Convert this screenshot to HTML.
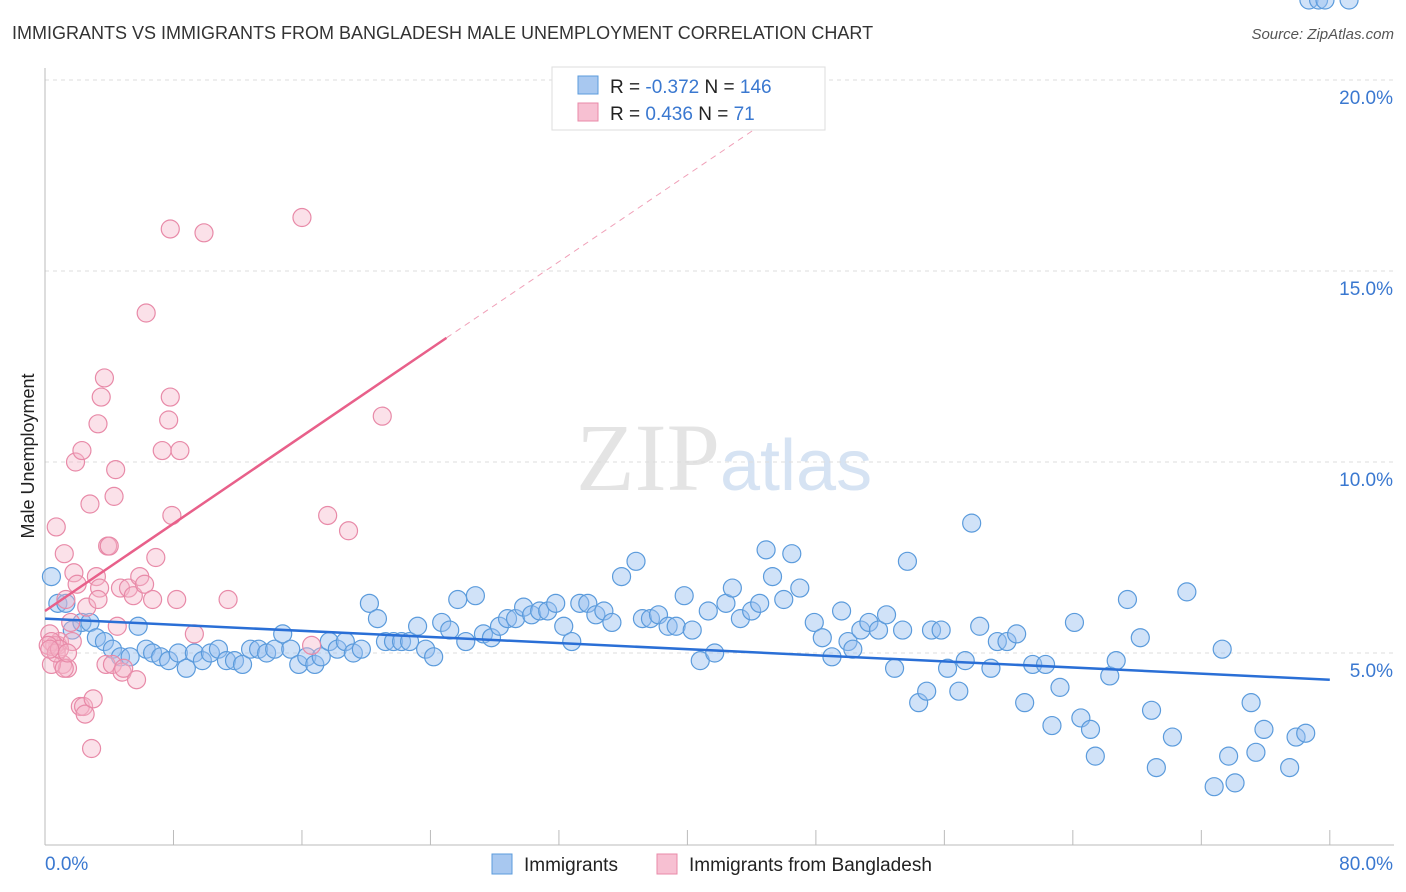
<!DOCTYPE html>
<html><head><meta charset="utf-8"><style>
body{margin:0;background:#fff;font-family:"Liberation Sans",sans-serif}
svg{display:block}
</style></head><body>
<svg id="c" width="1406" height="892">
<text x="12" y="39" font-size="18" fill="#333">IMMIGRANTS VS IMMIGRANTS FROM BANGLADESH MALE UNEMPLOYMENT CORRELATION CHART</text>
<text x="1394" y="39" font-size="15" fill="#555" font-style="italic" text-anchor="end">Source: ZipAtlas.com</text>
<text x="720" y="490" font-size="96" fill="#e4e4e4" font-family="Liberation Serif" text-anchor="end">ZIP</text>
<text x="720" y="490" font-size="72" fill="#d6e3f3">atlas</text>
<text transform="translate(34,456) rotate(-90)" font-size="18" fill="#222" text-anchor="middle">Male Unemployment</text>
<g id="grid"></g><g id="pts"></g><g id="trend"></g>
<g>
<rect x="552" y="67" width="273" height="63" fill="#fff" stroke="#ddd"/>
<rect x="578" y="76" width="20" height="18" fill="#a8c8f0" stroke="#5b9bdc"/>
<rect x="578" y="103" width="20" height="18" fill="#f7c0d2" stroke="#e88aa8"/>
<text x="610" y="93" font-size="19" fill="#222">R = <tspan fill="#3a78d0">-0.372</tspan>   N = <tspan fill="#3a78d0">146</tspan></text>
<text x="610" y="120" font-size="19" fill="#222">R =  <tspan fill="#3a78d0">0.436</tspan>   N =   <tspan fill="#3a78d0">71</tspan></text>
</g>
<g>
<rect x="492" y="854" width="20" height="20" fill="#a8c8f0" stroke="#5b9bdc"/>
<text x="524" y="871" font-size="19" fill="#222">Immigrants</text>
<rect x="657" y="854" width="20" height="20" fill="#f7c0d2" stroke="#e88aa8"/>
<text x="689" y="871" font-size="19" fill="#222">Immigrants from Bangladesh</text>
</g>
</svg>
<script>
const yTicks=[5,10,15,20];
const xTickLabels=["0.0%","80.0%"];
const blueX=[0.4,0.8,1.3,1.7,2.3,2.8,3.2,3.7,4.2,4.7,5.3,5.8,6.3,6.7,7.2,7.7,8.3,8.8,9.3,9.8,10.3,10.8,11.3,11.8,12.3,12.8,13.3,13.8,14.3,14.8,15.3,15.8,16.3,16.8,17.2,17.7,18.2,18.7,19.2,19.7,20.2,20.7,21.2,21.7,22.2,22.7,23.2,23.7,24.2,24.7,25.2,25.7,26.2,26.8,27.3,27.8,28.3,28.8,29.3,29.8,30.3,30.8,31.3,31.8,32.3,32.8,33.3,33.8,34.3,34.8,35.3,35.9,36.8,37.2,37.7,38.2,38.8,39.3,39.8,40.3,40.8,41.3,41.7,42.4,42.8,43.3,44.0,44.5,44.9,45.3,46.0,46.5,47.0,47.9,48.4,49.0,49.6,50.0,50.3,50.8,51.3,51.9,52.4,52.9,53.4,53.7,54.4,54.9,55.2,55.8,56.2,56.9,57.3,57.7,58.2,58.9,59.3,59.9,60.5,61.0,61.5,62.3,62.7,63.2,64.1,64.5,65.1,65.4,66.3,66.7,67.4,68.2,68.9,69.2,70.2,71.1,72.8,73.3,73.7,74.1,75.1,75.4,75.9,77.5,77.9,78.5,78.7,79.3,79.7,81.2];
const blueY=[7.0,6.3,6.3,5.6,5.8,5.8,5.4,5.3,5.1,4.9,4.9,5.7,5.1,5.0,4.9,4.8,5.0,4.6,5.0,4.8,5.0,5.1,4.8,4.8,4.7,5.1,5.1,5.0,5.1,5.5,5.1,4.7,4.9,4.7,4.9,5.3,5.1,5.3,5.0,5.1,6.3,5.9,5.3,5.3,5.3,5.3,5.7,5.1,4.9,5.8,5.6,6.4,5.3,6.5,5.5,5.4,5.7,5.9,5.9,6.2,6.0,6.1,6.1,6.3,5.7,5.3,6.3,6.3,6.0,6.1,5.8,7.0,7.4,5.9,5.9,6.0,5.7,5.7,6.5,5.6,4.8,6.1,5.0,6.3,6.7,5.9,6.1,6.3,7.7,7.0,6.4,7.6,6.7,5.8,5.4,4.9,6.1,5.3,5.1,5.6,5.8,5.6,6.0,4.6,5.6,7.4,3.7,4.0,5.6,5.6,4.6,4.0,4.8,8.4,5.7,4.6,5.3,5.3,5.5,3.7,4.7,4.7,3.1,4.1,5.8,3.3,3.0,2.3,4.4,4.8,6.4,5.4,3.5,2.0,2.8,6.6,1.5,5.1,2.3,1.6,3.7,2.4,3.0,2.0,2.8,2.9];
const pinkX=[0.7,0.8,0.9,1.1,1.2,1.3,1.4,1.6,1.7,1.8,1.9,2.0,2.2,2.3,2.4,2.5,2.6,2.8,2.9,3.0,3.2,3.3,3.4,3.5,3.7,3.8,3.9,4.0,4.2,4.3,4.4,4.5,4.7,4.8,4.9,5.2,5.5,5.7,5.9,6.2,6.3,6.7,6.9,7.3,7.7,7.8,7.9,7.8,8.2,8.4,9.3,9.9,11.4,16.0,16.6,17.6,18.9,21.0,0.3,0.4,0.6,0.4,0.2,0.7,0.9,0.3,1.2,1.4,3.3];
const pinkY=[8.3,5.2,5.3,4.7,7.6,6.4,4.6,5.8,5.3,7.1,10.0,6.8,3.6,10.3,3.6,3.4,6.2,8.9,2.5,3.8,7.0,11.0,6.7,11.7,12.2,4.7,7.8,7.8,4.7,9.1,9.8,5.7,6.7,4.5,4.6,6.7,6.5,4.3,7.0,6.8,13.9,6.4,7.5,10.3,11.1,16.1,8.6,11.7,6.4,10.3,5.5,16.0,6.4,16.4,5.2,8.6,8.2,11.2,5.5,4.7,5.2,5.3,5.2,5.0,5.1,5.1,4.6,5.0,6.4];
const X=v=>45+v*16.06, Y=v=>844-v*38.2;
const ns="http://www.w3.org/2000/svg";
function mk(tag,attrs,parent){const e=document.createElementNS(ns,tag);for(const k in attrs)e.setAttribute(k,attrs[k]);parent.appendChild(e);return e;}
const grid=document.getElementById('grid');
yTicks.forEach(t=>{
 const l=mk('line',{x1:45,x2:1394,y1:Y(t),y2:Y(t),stroke:'#ddd','stroke-dasharray':'4,4'},grid);
 
 
 const tx=mk('text',{x:1393,y:Y(t)+24,'font-size':19,fill:'#3a78d0','text-anchor':'end'},grid);
 tx.textContent=t.toFixed(1)+'%';
 
 
});
const ax=mk('line',{x1:45,x2:45,y1:68,y2:845,stroke:'#bbb'},grid);


const bx=mk('line',{x1:45,x2:1394,y1:845,y2:845,stroke:'#bbb'},grid);


for(let i=0;i<=10;i++){
 const t=mk('line',{x1:X(i*8),x2:X(i*8),y1:830,y2:845,stroke:'#bbb'},grid);
 
 
}
[[0,'start',45],[80,'end',1393]].forEach((a,i)=>{
 const tx=mk('text',{x:a[2],y:870,'font-size':19,fill:'#3a78d0','text-anchor':a[1]},grid);
 tx.textContent=xTickLabels[i];
 
 
});
const pts=document.getElementById('pts');
blueX.forEach((v,i)=>{
 const c=mk('circle',{cx:X(v),cy:Y(blueY[i]),r:9,fill:'rgba(150,190,240,0.45)',stroke:'#5b9bdc','stroke-width':1.2},pts);
 
 
});
pinkX.forEach((v,i)=>{
 const c=mk('circle',{cx:X(v),cy:Y(pinkY[i]),r:9,fill:'rgba(245,180,200,0.4)',stroke:'#e88aa8','stroke-width':1.2},pts);
 
 
});
const tr=document.getElementById('trend');
const b1=mk('line',{x1:X(0),y1:Y(5.9),x2:X(80),y2:Y(4.3),stroke:'#2a6fd6','stroke-width':2.5},tr);


const p1=mk('line',{x1:X(0),y1:Y(6.1),x2:X(25),y2:Y(13.25),stroke:'#e8608a','stroke-width':2.5},tr);


const p2=mk('line',{x1:X(25),y1:Y(13.25),x2:X(44.5),y2:Y(18.8),stroke:'#f0a0b8','stroke-width':1,'stroke-dasharray':'6,5'},tr);


</script>
</body></html>
